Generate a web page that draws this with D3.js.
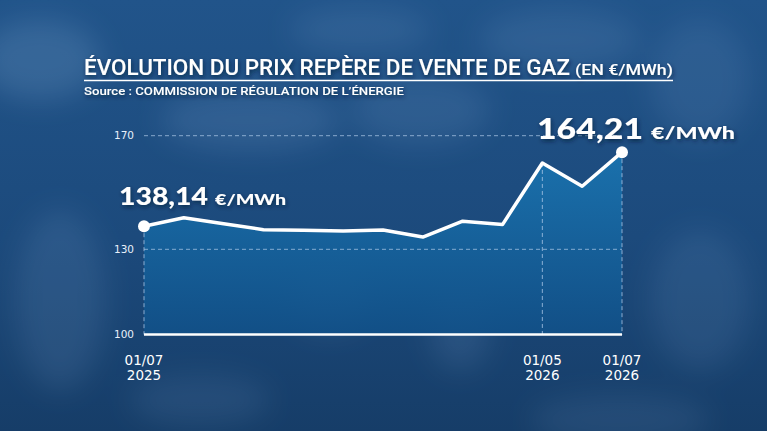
<!DOCTYPE html>
<html>
<head>
<meta charset="utf-8">
<script src="https://cdn.jsdelivr.net/npm/d3@7"></script>
<style>
  html, body { margin: 0; padding: 0; background: #1b4677; }
  svg { display: block; }
</style>
</head>
<body>
<div id="chart"></div>
<script>
// data (monthly benchmark price, €/MWh)
let months = ['2025-07', '2025-08', '2025-09', '2025-10', '2025-11', '2025-12', '2026-01',
              '2026-02', '2026-03', '2026-04', '2026-05', '2026-06', '2026-07'];
let prices = [138.14, 141.1, 139.0, 136.9, 136.7, 136.4, 136.8, 134.3, 139.9, 138.7, 160.4, 152.2, 164.21];
let yTicks = [100, 130, 170];
let xTickMonths = ['2025-07', '2026-05', '2026-07'];
let xTickLabels = [['01/07', '2025'], ['01/05', '2026'], ['01/07', '2026']];
let firstLabel = ['138,14', '€/MWh'];
let lastLabel = ['164,21', '€/MWh'];
let title = 'ÉVOLUTION DU PRIX REPÈRE DE VENTE DE GAZ';
let titleUnit = '(EN €/MWh)';
let source = 'Source : COMMISSION DE RÉGULATION DE L’ÉNERGIE';

let width = 767, height = 431;

let data = months.map(function(m, i) { return {month: m, price: prices[i]}; });

let svg = d3.select('#chart')
  .append('svg')
  .attr('width', width)
  .attr('height', height);

let defs = svg.append('defs');

// background gradient
let bg = defs.append('linearGradient').attr('id', 'bg').attr('x1', 0).attr('y1', 0).attr('x2', 0).attr('y2', 1);
bg.append('stop').attr('offset', '0%').attr('stop-color', '#21548a');
bg.append('stop').attr('offset', '55%').attr('stop-color', '#1c4a7c');
bg.append('stop').attr('offset', '100%').attr('stop-color', '#163d68');

let areaGrad = defs.append('linearGradient').attr('id', 'areaGrad').attr('x1', 0).attr('y1', 0).attr('x2', 0).attr('y2', 1);
areaGrad.append('stop').attr('offset', '0%').attr('stop-color', '#1a74b0');
areaGrad.append('stop').attr('offset', '100%').attr('stop-color', '#115088');

defs.append('filter').attr('id', 'blur').attr('x', '-50%').attr('y', '-50%').attr('width', '200%').attr('height', '200%')
  .append('feGaussianBlur').attr('stdDeviation', 14);

let shadow = defs.append('filter').attr('id', 'shadow').attr('x', '-20%').attr('y', '-40%').attr('width', '140%').attr('height', '180%');
shadow.append('feDropShadow').attr('dx', 1).attr('dy', 2).attr('stdDeviation', 2)
  .attr('flood-color', '#061a33').attr('flood-opacity', 0.7);

svg.append('rect').attr('width', width).attr('height', height).attr('fill', 'url(#bg)');

// blurry photo-like blobs in the background
let blobs = [
  [40, 60, 60, 40, 0.18], [250, 120, 90, 30, 0.14], [420, 110, 70, 35, 0.12], [560, 40, 80, 30, 0.12],
  [700, 80, 50, 60, 0.1], [60, 300, 45, 90, 0.12], [330, 300, 40, 30, 0.14], [460, 330, 30, 40, 0.12],
  [700, 300, 50, 70, 0.1], [200, 400, 70, 25, 0.1], [620, 420, 90, 25, 0.1], [360, 30, 70, 22, 0.12]
];
svg.append('g').attr('filter', 'url(#blur)')
  .selectAll('ellipse').data(blobs).enter().append('ellipse')
  .attr('cx', function(d) { return d[0]; })
  .attr('cy', function(d) { return d[1]; })
  .attr('rx', function(d) { return d[2]; })
  .attr('ry', function(d) { return d[3]; })
  .attr('fill', '#9cc0ea')
  .attr('fill-opacity', function(d) { return d[4]; });

// scales
let xScale = d3.scalePoint().domain(months).range([144, 622]);
let yScale = d3.scaleLinear().domain([100, 170]).range([334.5, 135.7]);

// area
let area = d3.area()
  .x(function(d) { return xScale(d.month); })
  .y0(yScale(100))
  .y1(function(d) { return yScale(d.price); });

svg.append('path').datum(data)
  .attr('d', area)
  .attr('fill', 'url(#areaGrad)')
  .attr('fill-opacity', 0.92);

// horizontal gridlines (dashed) + y labels
let yAxis = svg.append('g');
yAxis.selectAll('line.grid').data(yTicks.filter(function(t) { return t !== 100; })).enter()
  .append('line')
  .attr('class', 'grid')
  .attr('x1', xScale.range()[0]).attr('x2', xScale.range()[1])
  .attr('y1', function(d) { return yScale(d); })
  .attr('y2', function(d) { return yScale(d); })
  .attr('stroke', '#a9c6e6').attr('stroke-opacity', 0.75)
  .attr('stroke-width', 1).attr('stroke-dasharray', '4,3');

yAxis.selectAll('text').data(yTicks).enter()
  .append('text')
  .attr('x', 134)
  .attr('y', function(d) { return yScale(d); })
  .attr('dy', '0.36em')
  .attr('text-anchor', 'end')
  .attr('font-family', 'DejaVu Sans, sans-serif')
  .attr('font-size', 10.5)
  .attr('fill', '#e8f0fa')
  .text(function(d) { return d; });

// vertical dashed lines at the labelled dates
let byMonth = {};
data.forEach(function(d) { byMonth[d.month] = d.price; });
svg.append('g').selectAll('line').data(xTickMonths).enter()
  .append('line')
  .attr('x1', function(d) { return xScale(d); })
  .attr('x2', function(d) { return xScale(d); })
  .attr('y1', function(d) { return yScale(byMonth[d]); })
  .attr('y2', yScale(100))
  .attr('stroke', '#a9c6e6').attr('stroke-opacity', 0.8)
  .attr('stroke-width', 1).attr('stroke-dasharray', '4,3');

// baseline
svg.append('line')
  .attr('x1', xScale.range()[0]).attr('x2', xScale.range()[1])
  .attr('y1', yScale(100)).attr('y2', yScale(100))
  .attr('stroke', '#ffffff').attr('stroke-width', 2.5);

// x labels
let xLab = svg.append('g').selectAll('text').data(xTickMonths).enter()
  .append('text')
  .attr('x', function(d) { return xScale(d); })
  .attr('y', 365)
  .attr('text-anchor', 'middle')
  .attr('font-family', 'DejaVu Sans, sans-serif')
  .attr('font-size', 13.5)
  .attr('fill', '#ffffff');
xLab.append('tspan')
  .attr('x', function(d) { return xScale(d); })
  .text(function(d, i) { return xTickLabels[i][0]; });
xLab.append('tspan')
  .attr('x', function(d) { return xScale(d); })
  .attr('dy', 15)
  .text(function(d, i) { return xTickLabels[i][1]; });

// price line
let line = d3.line()
  .x(function(d) { return xScale(d.month); })
  .y(function(d) { return yScale(d.price); });

svg.append('path').datum(data)
  .attr('d', line)
  .attr('fill', 'none')
  .attr('stroke', '#ffffff')
  .attr('stroke-width', 3.5)
  .attr('stroke-linejoin', 'round');

// end points
svg.append('g').selectAll('circle').data([data[0], data[data.length - 1]]).enter()
  .append('circle')
  .attr('cx', function(d) { return xScale(d.month); })
  .attr('cy', function(d) { return yScale(d.price); })
  .attr('r', 6)
  .attr('fill', '#ffffff');

// value labels: big number + unit, stretched to the widths seen in the picture
function valueLabel(x, y, parts, big, small, w1, gap, w2) {
  let g = svg.append('g').attr('filter', 'url(#shadow)');
  g.append('text')
    .attr('x', x).attr('y', y)
    .attr('font-family', 'Lato, sans-serif').attr('font-weight', 900)
    .attr('font-size', big).attr('fill', '#ffffff')
    .attr('textLength', w1).attr('lengthAdjust', 'spacingAndGlyphs')
    .text(parts[0]);
  g.append('text')
    .attr('x', x + w1 + gap).attr('y', y)
    .attr('font-family', 'Lato, sans-serif').attr('font-weight', 900)
    .attr('font-size', small).attr('fill', '#ffffff')
    .attr('textLength', w2).attr('lengthAdjust', 'spacingAndGlyphs')
    .text(parts[1]);
}
valueLabel(119, 205, firstLabel, 25, 14.5, 89, 7, 71);
valueLabel(537, 138.5, lastLabel, 29, 17.5, 106, 8, 84);

// title block
let head = svg.append('text')
  .attr('x', 84).attr('y', 74.5)
  .attr('fill', '#ffffff')
  .attr('font-family', 'Roboto, sans-serif')
  .attr('filter', 'url(#shadow)');
head.append('tspan')
  .attr('font-size', 22).attr('font-weight', 500)
  .attr('textLength', 486).attr('lengthAdjust', 'spacingAndGlyphs')
  .text(title);
head.append('tspan')
  .attr('x', 575)
  .attr('font-size', 15).attr('font-weight', 500)
  .attr('textLength', 98).attr('lengthAdjust', 'spacingAndGlyphs')
  .text(titleUnit);

svg.append('line')
  .attr('x1', 84).attr('x2', 673)
  .attr('y1', 80.5).attr('y2', 80.5)
  .attr('stroke', '#ffffff').attr('stroke-width', 1.5);

svg.append('text')
  .attr('x', 84).attr('y', 94.8)
  .attr('fill', '#ffffff')
  .attr('font-family', 'Roboto, sans-serif')
  .attr('font-size', 10.5).attr('font-weight', 500)
  .attr('textLength', 320).attr('lengthAdjust', 'spacingAndGlyphs')
  .attr('filter', 'url(#shadow)')
  .text(source);
</script>
</body>
</html>
